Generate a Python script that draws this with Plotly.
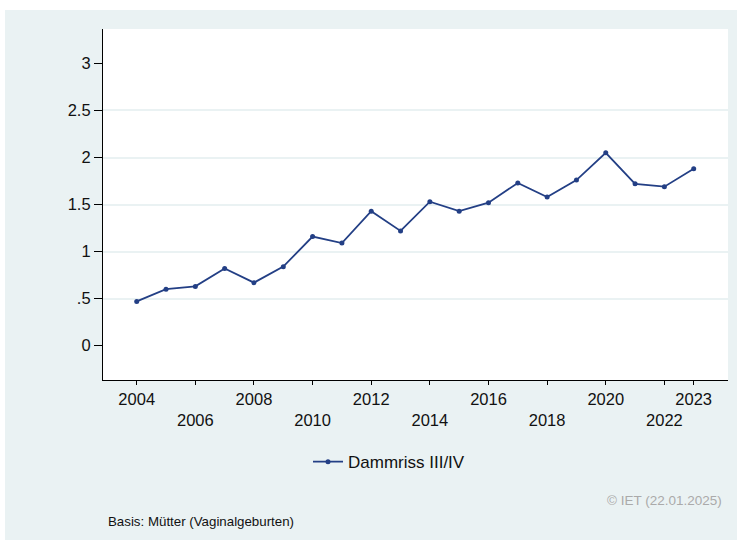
import plotly.graph_objects as go

years = list(range(2004, 2024))
values = [0.47, 0.60, 0.63, 0.82, 0.67, 0.84, 1.16, 1.09, 1.43, 1.22,
          1.53, 1.43, 1.52, 1.73, 1.58, 1.76, 2.05, 1.72, 1.69, 1.88]
series_name = "Dammriss III/IV"

x_tickvals = [2004, 2006, 2008, 2010, 2012, 2014, 2016, 2018, 2020, 2022, 2023]
x_ticktext = ["2004", " <br>2006", "2008", " <br>2010", "2012", " <br>2014",
              "2016", " <br>2018", "2020", " <br>2022", "2023"]
y_tickvals = [0, 0.5, 1, 1.5, 2, 2.5, 3]
y_ticktext = ["0", ".5", "1", "1.5", "2", "2.5", "3"]
y_gridvals = [0.5, 1, 1.5, 2, 2.5]

note_left = "Basis: Mütter (Vaginalgeburten)"
note_right = "© IET (22.01.2025)"

BG = "#EAF2F3"
LINE = "#233F85"
FONT = "Liberation Sans, Arial, sans-serif"

fig = go.Figure()
fig.add_trace(go.Scatter(
    x=years, y=values, mode="lines+markers", name=series_name,
    line=dict(color=LINE, width=1.8),
    marker=dict(color=LINE, size=5),
))

fig.update_layout(
    width=737, height=540,
    margin=dict(l=103, r=9, t=29, b=160, autoexpand=False),
    paper_bgcolor=BG, plot_bgcolor="white",
    font=dict(family=FONT, color="#111111"),
    showlegend=True,
    legend=dict(orientation="h", x=0.328, xanchor="left", y=-0.234, yanchor="middle",
                bgcolor="rgba(0,0,0,0)", font=dict(size=17, family=FONT, color="#111111")),
    xaxis=dict(range=[2002.85, 2024.17], tickmode="array", tickvals=x_tickvals,
               ticktext=x_ticktext, ticks="outside", ticklen=4, tickcolor="black",
               tickwidth=1.2, showline=True, linecolor="black", linewidth=1.2,
               showgrid=False, zeroline=False, tickfont=dict(size=16.5),
               tickangle=0, automargin=False),
    yaxis=dict(range=[-0.365, 3.366], tickmode="array", tickvals=y_tickvals,
               ticktext=y_ticktext, ticks="outside", ticklen=8, tickcolor="black",
               tickwidth=1.2, showline=True, linecolor="black", linewidth=1.2,
               showgrid=False, zeroline=False, tickfont=dict(size=16.5),
               automargin=False,
               minor=dict(tickvals=y_gridvals, showgrid=True, gridcolor=BG,
                          gridwidth=1.5, ticklen=0)),
    shapes=[
        dict(type="rect", xref="paper", yref="paper", x0=-0.2, x1=1.1,
             y0=(380 - 10) / 351, y1=1.2, fillcolor="white", line=dict(width=0), layer="above"),
        dict(type="rect", xref="paper", yref="paper", x0=-0.2, x1=(5 - 103) / 625,
             y0=-0.5, y1=1.2, fillcolor="white", line=dict(width=0), layer="above"),
    ],
    annotations=[
        dict(text=note_right, xref="paper", yref="paper", x=(724 - 103) / 625,
             y=(380 - 500) / 351, xanchor="right", yanchor="middle", showarrow=False,
             font=dict(size=13.5, color="#AAAAAA", family=FONT)),
        dict(text=note_left, xref="paper", yref="paper", x=(106 - 103) / 625,
             y=(380 - 521) / 351, xanchor="left", yanchor="middle", showarrow=False,
             font=dict(size=13.3, color="#111111", family=FONT)),
    ],
)

fig.write_html("out.html", config={"displayModeBar": False},
               post_script="document.body.style.margin='0';")
